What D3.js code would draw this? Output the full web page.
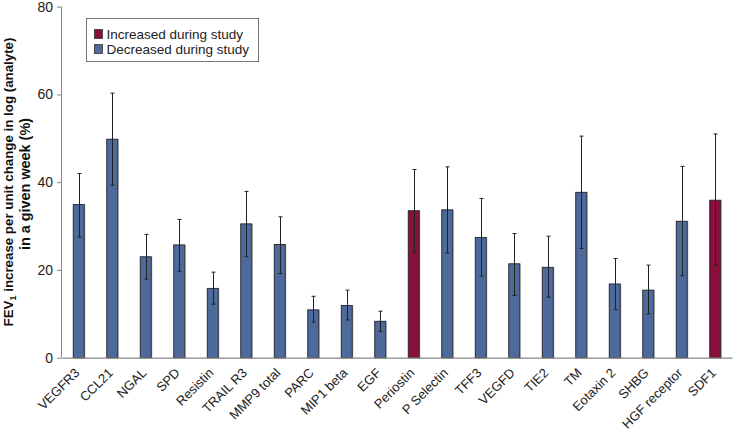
<!DOCTYPE html>
<html><head><meta charset="utf-8">
<script src="https://cdn.jsdelivr.net/npm/d3@7"></script>
<style>body{margin:0;background:#fff;} svg{display:block;}</style>
</head><body>
<svg id="chart" width="733" height="433"></svg>
<script>
const categories = ["VEGFR3","CCL21","NGAL","SPD","Resistin","TRAIL R3","MMP9 total","PARC","MIP1 beta","EGF","Periostin","P Selectin","TFF3","VEGFD","TIE2","TM","Eotaxin 2","SHBG","HGF receptor","SDF1"];
const values =   [34.9,49.8,23.0,25.7,15.8,30.5,25.8,10.9,11.9,8.3,33.5,33.7,27.4,21.4,20.6,37.7,16.8,15.4,31.1,35.9];
const errUpper = [42.0,60.3,28.1,31.5,19.5,37.9,32.1,14.0,15.4,10.6,42.9,43.5,36.3,28.3,27.7,50.5,22.6,21.1,43.6,51.0];
const errLower = [27.5,39.3,17.9,19.7,12.2,23.0,19.2,8.1,8.6,6.0,23.9,23.9,18.6,14.2,13.8,24.9,11.0,10.0,18.7,21.1];
const groups =   ["D","D","D","D","D","D","D","D","D","D","I","D","D","D","D","D","D","D","D","I"];
const yTicks = [0,20,40,60,80];
const legendLabels = ["Increased during study","Decreased during study"];

const colors = {I:"#8a0f3c", D:"#4e6a9b"};
const data = categories.map((c,i)=>({c, v:values[i], hi:errUpper[i], lo:errLower[i], g:groups[i]}));

const svg = d3.select("#chart");
const m = {left:62, right:1, top:6.7, bottom:75.3};
const W = 733, H = 433;
const x = d3.scaleBand().domain(categories).range([m.left, W - m.right]).paddingInner(0.67).paddingOuter(0.335);
const y = d3.scaleLinear().domain([0,80]).range([H - m.bottom, m.top]);
const FONT = "Liberation Sans, Arial, Helvetica, sans-serif";

// bars
const bw = 11;
svg.append("g").selectAll("rect.shadow").data(data).join("rect")
  .attr("x", d=>x(d.c)+x.bandwidth()/2 - bw/2 + 0.5)
  .attr("y", d=>y(d.v)+0.5)
  .attr("width", bw).attr("height", d=>y(0)-y(d.v))
  .attr("fill","none").attr("stroke","#bbb").attr("stroke-width",1.2);
svg.append("g").selectAll("rect.bar").data(data).join("rect")
  .attr("x", d=>x(d.c)+x.bandwidth()/2 - bw/2)
  .attr("y", d=>y(d.v))
  .attr("width", bw).attr("height", d=>y(0)-y(d.v))
  .attr("fill", d=>colors[d.g]).attr("stroke","#23262e").attr("stroke-width",0.9);

// error bars
const eg = svg.append("g").attr("stroke","#222").attr("stroke-width",1);
data.forEach(d=>{
  const cx = Math.round(x(d.c)+x.bandwidth()/2)+0.5;
  eg.append("line").attr("x1",cx).attr("x2",cx).attr("y1",y(d.hi)).attr("y2",y(d.lo));
  eg.append("line").attr("x1",cx-2).attr("x2",cx+2).attr("y1",y(d.hi)).attr("y2",y(d.hi));
  eg.append("line").attr("x1",cx-2).attr("x2",cx+2).attr("y1",y(d.lo)).attr("y2",y(d.lo));
});

// y axis
const ya = svg.append("g").attr("transform",`translate(${m.left},0)`)
  .call(d3.axisLeft(y).tickValues(yTicks).tickSize(5).tickPadding(4));
ya.select(".domain").attr("stroke","#888").attr("d", `M-0.5,${y(80)}V${y(0)}`);
ya.selectAll(".tick line").attr("stroke","#888");
ya.selectAll(".tick text").attr("font-family",FONT).attr("font-size",14).attr("fill","#222");

// x axis
const xa = svg.append("g").attr("transform",`translate(0,${y(0)})`)
  .call(d3.axisBottom(x).tickSize(0).tickPadding(0));
xa.select(".domain").attr("stroke","#888").attr("stroke-width",1.2);
xa.selectAll(".tick text")
  .attr("font-family",FONT).attr("font-size",13).attr("fill","#222")
  .attr("text-anchor","end").attr("dy",0).attr("y",0)
  .attr("transform","translate(1.5,16) rotate(-45)");

// y title
const yt = svg.append("text").attr("transform",`translate(13,182) rotate(-90)`)
  .attr("text-anchor","middle").attr("font-family",FONT)
  .attr("font-size",13.3).attr("font-weight","bold").attr("fill","#111");
yt.append("tspan").text("FEV");
yt.append("tspan").attr("font-size",9).attr("dy",3).text("1");
yt.append("tspan").attr("dy",-3).text(" increase per unit change in log (analyte)");
svg.append("text").attr("transform",`translate(30,184) rotate(-90)`)
  .attr("text-anchor","middle").attr("font-family",FONT)
  .attr("font-size",14.4).attr("font-weight","bold").attr("fill","#111")
  .text("in a given week (%)");

// legend
const lg = svg.append("g");
lg.append("rect").attr("x",86.5).attr("y",18.5).attr("width",172).attr("height",43)
  .attr("fill","#fff").attr("stroke","#777");
legendLabels.forEach((t,i)=>{
  const yy = 29 + i*15;
  lg.append("rect").attr("x",94.5).attr("y",yy+0.5).attr("width",8).attr("height",9)
    .attr("fill", i===0?colors.I:colors.D).attr("stroke","#333").attr("stroke-width",0.8);
  lg.append("text").attr("x",106.5).attr("y",yy+10).attr("font-family",FONT)
    .attr("font-size",13.5).attr("fill","#222").text(t);
});
</script>
</body></html>
